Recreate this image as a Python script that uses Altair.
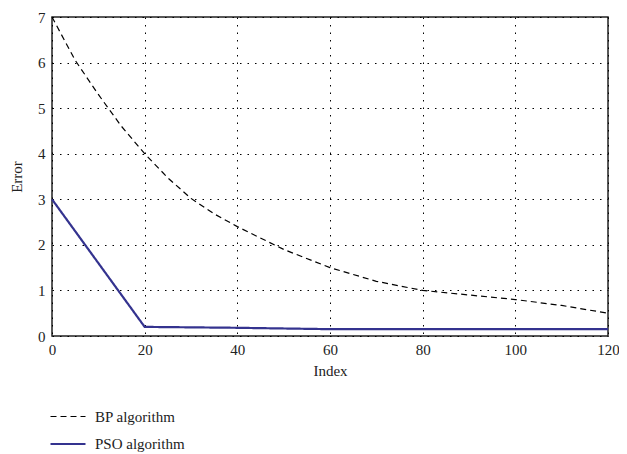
import altair as alt
import pandas as pd

bp_x = [0, 5, 10, 15, 20, 25, 30, 35, 40, 50, 60, 70, 80, 90, 100, 110, 120]
bp_y = [7.0, 6.05, 5.3, 4.6, 4.0, 3.47, 3.02, 2.68, 2.4, 1.9, 1.5, 1.2, 1.0, 0.9, 0.8, 0.67, 0.5]
pso_x = [0, 20, 40, 60, 80, 100, 120]
pso_y = [3.0, 0.2, 0.18, 0.15, 0.15, 0.15, 0.15]
series = ["BP algorithm", "PSO algorithm"]
x_ticks = [0, 20, 40, 60, 80, 100, 120]
y_ticks = [0, 1, 2, 3, 4, 5, 6, 7]

rows = []
for x, y in zip(bp_x, bp_y):
    rows.append({"Index": x, "Error": y, "Series": series[0]})
for x, y in zip(pso_x, pso_y):
    rows.append({"Index": x, "Error": y, "Series": series[1]})
df = pd.DataFrame(rows)

FONT = "Liberation Serif"

legend = alt.Legend(
    title=None, orient="none", legendX=-3, legendY=381,
    symbolType="stroke", symbolSize=1225, labelFontSize=15, labelFont=FONT,
    labelColor="#222", rowPadding=-6, labelOffset=8, symbolStrokeWidth=1.2,
)

chart = alt.Chart(df).mark_line().encode(
    x=alt.X("Index:Q", scale=alt.Scale(domain=[0, 120], nice=False),
            axis=alt.Axis(values=x_ticks, title="Index", grid=True,
                          gridDash=[1.5, 6], gridColor="#000", gridWidth=1,
                          domain=False, ticks=False, labelFlush=False,
                          labelPadding=6, titlePadding=6)),
    y=alt.Y("Error:Q", scale=alt.Scale(domain=[0, 7], nice=False),
            axis=alt.Axis(values=y_ticks, title="Error", grid=True,
                          gridDash=[1.5, 6], gridColor="#000", gridWidth=1,
                          domain=False, ticks=False, labelFlush=False,
                          labelPadding=7, titlePadding=13)),
    color=alt.Color("Series:N", scale=alt.Scale(domain=series, range=["#000000", "#34338f"]), legend=legend),
    strokeDash=alt.StrokeDash("Series:N", scale=alt.Scale(domain=series, range=[[6, 4], [1, 0]]), legend=legend),
    strokeWidth=alt.StrokeWidth("Series:N", scale=alt.Scale(domain=series, range=[1.2, 2.2]), legend=None),
).properties(
    width=556, height=319,
    autosize=alt.AutoSizeParams(type="none"),
    padding={"left": 44, "top": 9, "right": 11, "bottom": 116},
).configure_view(
    stroke="#222", strokeWidth=1.5
).configure_axis(
    labelFont=FONT, titleFont=FONT, labelFontSize=15, titleFontSize=15,
    titleFontWeight="normal", labelColor="#222", titleColor="#222",
)

chart.save("out.html", embed_options={"renderer": "svg", "actions": False})
